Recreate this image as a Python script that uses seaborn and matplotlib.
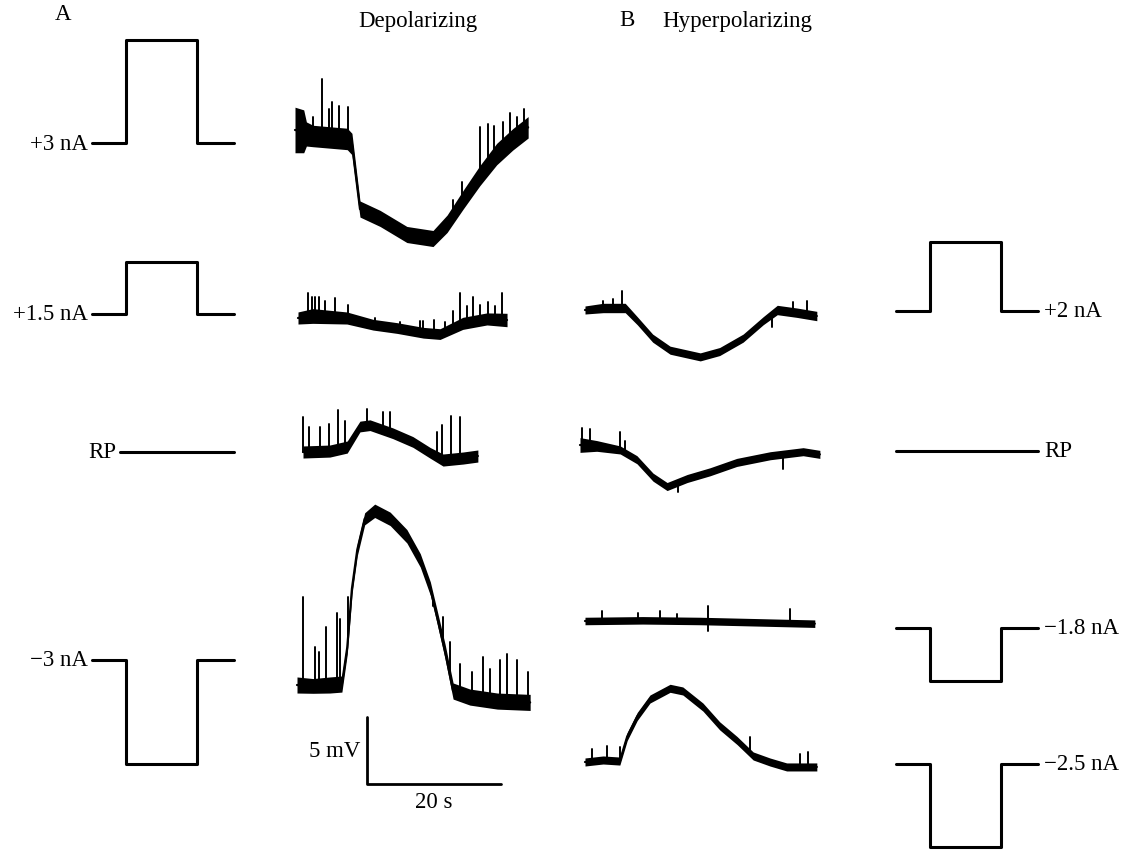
import numpy as np
import pandas as pd
import matplotlib
matplotlib.use("Agg")
import matplotlib.pyplot as plt
import seaborn as sns

sns.set_theme(style="white")
plt.rcParams['font.family'] = ['Liberation Serif', 'DejaVu Serif']
plt.rcParams['text.color'] = 'black'

# ---------------- data: membrane potential recordings ----------------
# time in s, potential in mV relative to trace start; hw = noise half-width (mV)
a1_t = [0, 1.3, 1.7, 2.7, 7.8, 8.5, 9.7, 12.7, 16.7, 20.6, 22.7, 25.1, 27.6, 30.1, 32.5, 34.8]
a1_v = [0.3, 0.2, 0.0, -0.15, -0.37, -0.75, -5.6, -6.3, -7.5, -7.8, -6.7, -4.9, -3.1, -1.5, -0.4, 0.5]
a1_hw = [1.7, 1.6, 0.9, 0.8, 0.8, 0.8, 0.6, 0.6, 0.6, 0.6, 0.65, 0.7, 0.75, 0.8, 0.8, 0.8]
a1_sp_t = [2.7, 4.0, 5.1, 5.5, 6.6, 7.9, 23.6, 24.9, 27.6, 28.8, 29.7, 31.0, 32.1, 33.1, 34.2]
a1_sp_v = [1.3, 4.1, 1.9, 2.4, 2.1, 2.0, -4.9, -3.6, 0.5, 0.75, 0.6, 0.9, 1.6, 1.3, 1.9]

a2_t = [0, 2.2, 7.3, 11.2, 14.8, 18.7, 21.2, 24.6, 28.2, 31.2]
a2_v = [0, 0.15, 0, -0.5, -0.75, -1.1, -1.2, -0.4, -0.07, -0.15]
a2_hw = [0.45, 0.55, 0.45, 0.4, 0.4, 0.4, 0.4, 0.45, 0.45, 0.5]
a2_sp_t = [1.5, 2.1, 2.5, 3.1, 4.0, 5.5, 7.5, 11.5, 15.2, 18.2, 18.7, 20.3, 21.9, 23.1, 24.2,
           25.2, 26.1, 27.2, 28.4, 29.4, 30.4]
a2_sp_v = [1.9, 1.6, 1.6, 1.6, 1.3, 1.5, 1.0, 0.0, -0.3, -0.2, -0.2, -0.15, -0.3, 0.5, 1.9,
           0.9, 1.6, 1.0, 1.2, 0.9, 1.9]

a3_t = [0, 4.0, 6.6, 8.5, 10.0, 13.4, 16.4, 19.0, 20.9, 23.9, 26.1]
a3_v = [0, 0.07, 0.37, 1.9, 2.0, 1.4, 0.75, -0.07, -0.6, -0.45, -0.3]
a3_hw = [0.45, 0.45, 0.45, 0.4, 0.4, 0.4, 0.4, 0.4, 0.45, 0.45, 0.45]
a3_sp_t = [0.0, 0.9, 2.5, 3.9, 5.2, 6.3, 9.6, 11.9, 13.0, 20.0, 20.7, 22.1, 23.4]
a3_sp_v = [2.6, 1.9, 1.9, 2.1, 3.1, 2.3, 3.2, 3.0, 3.0, 1.5, 2.0, 2.7, 2.6]

a4_t = [0, 2.4, 4.9, 6.7, 7.5, 8.2, 9.0, 10.1, 11.6, 13.9, 16.4, 18.4, 19.9, 20.9, 22.1, 23.3,
        25.8, 29.9, 34.8]
a4_v = [0, -0.07, 0, 0.07, 2.8, 7.2, 10.1, 12.4, 13.0, 12.4, 11.1, 9.3, 7.2, 5.1, 2.5, -0.45,
        -0.9, -1.2, -1.3]
a4_hw = [0.6, 0.55, 0.6, 0.6, 0.5, 0.45, 0.45, 0.45, 0.5, 0.5, 0.5, 0.5, 0.5, 0.5, 0.55, 0.6,
         0.6, 0.6, 0.6]
a4_sp_t = [0.9, 2.7, 3.3, 4.3, 6.0, 6.4, 7.6, 20.3, 21.8, 22.8, 24.3, 26.1, 27.8, 28.8, 30.3,
           31.3, 32.8, 34.5]
a4_sp_v = [6.6, 2.8, 2.5, 4.3, 5.4, 4.9, 6.6, 5.9, 5.1, 3.2, 1.6, 1.0, 2.1, 1.2, 1.9, 2.3, 1.9, 1.0]

b1_t = [0, 2.7, 6.0, 7.8, 10.1, 12.7, 17.2, 20.1, 23.6, 26.6, 28.7, 31.6, 34.6]
b1_v = [0, 0.15, 0.15, -0.8, -2.1, -3.0, -3.5, -3.1, -2.1, -0.8, 0, -0.2, -0.45]
b1_hw = [0.3, 0.35, 0.35, 0.3, 0.3, 0.3, 0.3, 0.3, 0.3, 0.3, 0.35, 0.35, 0.35]
b1_sp_t = [2.7, 4.2, 5.5, 27.9, 31.0, 33.1]
b1_sp_v = [0.7, 0.8, 1.4, -1.3, 0.6, 0.7]

b2_t = [0, 2.5, 6.0, 8.5, 10.9, 13.0, 16.0, 19.4, 23.4, 28.4, 33.3, 35.8]
b2_v = [0, -0.07, -0.37, -1.1, -2.4, -3.1, -2.5, -2.0, -1.3, -0.8, -0.5, -0.7]
b2_hw = [0.55, 0.4, 0.3, 0.3, 0.3, 0.3, 0.3, 0.3, 0.3, 0.3, 0.3, 0.3]
b2_sp_t = [0.3, 1.5, 6.0, 6.7, 14.6, 30.3]
b2_sp_v = [1.3, 1.2, 1.0, 0.3, -3.5, -1.8]

b3_t = [0, 8.6, 17.2, 25.8, 34.3]
b3_v = [0, 0.05, 0, -0.1, -0.2]
b3_hw = [0.28, 0.28, 0.28, 0.28, 0.28]
b3_sp_t = [2.5, 7.9, 11.2, 13.7, 18.4, 18.4, 30.6]
b3_sp_v = [0.75, 0.6, 0.75, 0.5, 1.1, -0.75, 0.9]

b4_t = [0, 2.7, 5.2, 6.3, 7.8, 9.7, 12.7, 14.6, 17.6, 20.1, 22.7, 25.1, 27.6, 30.1, 34.6]
b4_v = [0, 0.15, 0.07, 1.9, 3.4, 4.7, 5.5, 5.3, 4.1, 2.7, 1.6, 0.45, 0, -0.37, -0.37]
b4_hw = [0.3] * 15
b4_sp_t = [1.0, 3.3, 5.2, 24.6, 32.1, 33.3]
b4_sp_v = [1.0, 1.2, 1.1, 1.9, 0.6, 0.75]

# ---------------- data: current stimuli ----------------
stim_labels_A = ["+3 nA", "+1.5 nA", "RP", "\u22123 nA"]
stim_amp_A = [3.0, 1.5, 0.0, -3.0]          # drawn step amplitude (nA)
stim_labels_B = ["+2 nA", "RP", "\u22121.8 nA", "\u22122.5 nA"]
stim_amp_B = [2.0, 0.0, -1.55, -2.4]
stim_t = [0.0, 5.0, 5.0, 15.6, 15.6, 21.2]  # sweep start, on, on, off, off, end (s)
stim_on = [0, 0, 1, 1, 0, 0]

scale_mV = 5
scale_s = 20

# ---------------- layout (pixels) ----------------
W, H = 1131, 854
PX_S, PX_MV, PX_NA = 6.7, 13.4, 34.5
traces = [
    (a1_t, a1_v, a1_hw, a1_sp_t, a1_sp_v, 295, 135),
    (a2_t, a2_v, a2_hw, a2_sp_t, a2_sp_v, 298, 319),
    (a3_t, a3_v, a3_hw, a3_sp_t, a3_sp_v, 303, 453),
    (a4_t, a4_v, a4_hw, a4_sp_t, a4_sp_v, 297, 686),
    (b1_t, b1_v, b1_hw, b1_sp_t, b1_sp_v, 585, 311),
    (b2_t, b2_v, b2_hw, b2_sp_t, b2_sp_v, 580, 446),
    (b3_t, b3_v, b3_hw, b3_sp_t, b3_sp_v, 585, 622),
    (b4_t, b4_v, b4_hw, b4_sp_t, b4_sp_v, 585, 763),
]
stimA_y = [144, 315, 453, 661]
stimB_y = [312, 452, 629, 765]
stimA_x0, stimB_x0 = 92, 896
rpA_x0 = 120
FS = 16.5

fig = plt.figure(figsize=(W / 100, H / 100), dpi=100)
ax = fig.add_axes([0, 0, 1, 1])
ax.set_xlim(0, W)
ax.set_ylim(H, 0)
ax.axis("off")

# recordings
for t, v, hw, sp_t, sp_v, x0, y0 in traces:
    t = np.asarray(t, float); v = np.asarray(v, float); hw = np.asarray(hw, float)
    px = x0 + t * PX_S
    ax.fill_between(px, y0 - (v + hw) * PX_MV, y0 - (v - hw) * PX_MV,
                    color="black", lw=0)
    sns.lineplot(x=px, y=y0 - v * PX_MV, ax=ax, color="black", lw=1.6,
                 estimator=None, sort=False)
    st = np.asarray(sp_t, float)
    base = np.interp(st, t, v)
    rows = []
    for i, (a, b, c) in enumerate(zip(st, base, sp_v)):
        rows.append((x0 + a * PX_S, y0 - b * PX_MV, i))
        rows.append((x0 + a * PX_S, y0 - c * PX_MV, i))
    sdf = pd.DataFrame(rows, columns=["x", "y", "u"])
    sns.lineplot(data=sdf, x="x", y="y", units="u", ax=ax, color="black", lw=1.4,
                 estimator=None, sort=False)

# stimuli
def draw_stim(x0, y0, amp, start=None):
    tt = np.asarray(stim_t)
    px = x0 + tt * PX_S
    py = y0 - np.asarray(stim_on) * amp * PX_NA
    if start is not None:
        px = px.copy(); px[0] = start
    sns.lineplot(x=px, y=py, ax=ax, color="black", lw=2.2, estimator=None, sort=False)
    return px

for lab, amp, y0 in zip(stim_labels_A, stim_amp_A, stimA_y):
    start = rpA_x0 if amp == 0 else None
    px = draw_stim(stimA_x0, y0, amp, start)
    ax.text(px[0] - 4, y0, lab, ha="right", va="center", fontsize=FS, color="black")

for lab, amp, y0 in zip(stim_labels_B, stim_amp_B, stimB_y):
    px = draw_stim(stimB_x0, y0, amp)
    ax.text(px[-1] + 6, y0, lab, ha="left", va="center", fontsize=FS, color="black")

# scale bar
cx, cy = 367, 785
sb = pd.DataFrame({"x": [cx, cx, cx + scale_s * PX_S],
                   "y": [cy - scale_mV * PX_MV, cy, cy]})
sns.lineplot(data=sb, x="x", y="y", ax=ax, color="black", lw=2.0, estimator=None, sort=False)
ax.text(cx - 7, 752, f"{scale_mV} mV", ha="right", va="center", fontsize=FS, color="black")
ax.text(cx + scale_s * PX_S / 2, 803, f"{scale_s} s", ha="center", va="center",
        fontsize=FS, color="black")

# headings
ax.text(63, 15, "A", ha="center", va="center", fontsize=FS, color="black")
ax.text(418, 21, "Depolarizing", ha="center", va="center", fontsize=FS, color="black")
ax.text(627, 20, "B", ha="center", va="center", fontsize=FS, color="black")
ax.text(737, 21, "Hyperpolarizing", ha="center", va="center", fontsize=FS, color="black")

fig.savefig("out.png", dpi=100, facecolor="white")
